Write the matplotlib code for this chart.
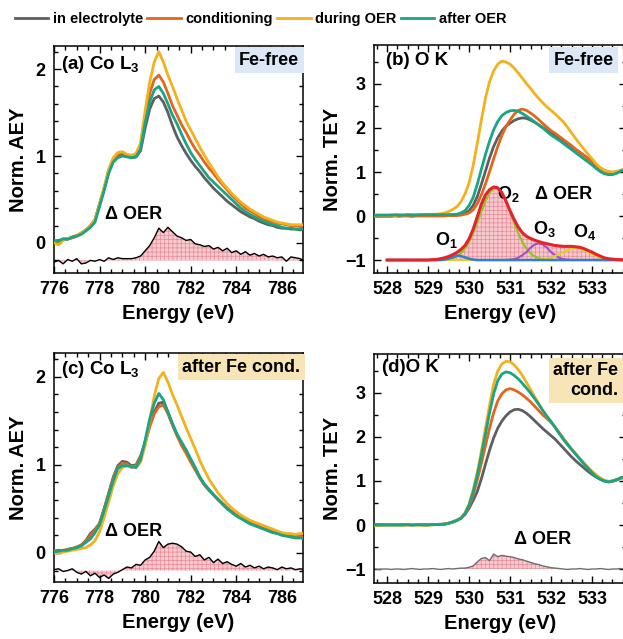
import numpy as np
import matplotlib
matplotlib.use("Agg")
import matplotlib.pyplot as plt
from matplotlib.lines import Line2D
from matplotlib.ticker import MultipleLocator

plt.rcParams['font.family'] = ['Liberation Sans', 'DejaVu Sans']
plt.rcParams['font.weight'] = 'bold'
plt.rcParams['axes.labelweight'] = 'bold'
plt.rcParams['mathtext.fontset'] = 'custom'
plt.rcParams['mathtext.rm'] = 'Liberation Sans:bold'
plt.rcParams['mathtext.it'] = 'Liberation Sans:bold'
plt.rcParams['mathtext.bf'] = 'Liberation Sans:bold'
plt.rcParams['hatch.linewidth'] = 0.5

# series names and colours
labels = ['in electrolyte', 'conditioning', 'during OER', 'after OER']
colors = ['#5f5f5f', '#e5651c', '#f3b11c', '#17a585']

# ---------------- Co L3 edge, energies 776.0 ... 787.0 (0.2 eV) ----------------
e_co = np.round(np.arange(776.0, 787.01, 0.2), 1)

co_a_gray = [0.02, 0.03, 0.04, 0.05, 0.06, 0.08, 0.11, 0.15, 0.20, 0.27,
             0.45, 0.63, 0.82, 0.95, 1.00, 1.01, 1.00, 0.98, 0.99, 1.06,
             1.32, 1.54, 1.66, 1.69, 1.62, 1.50, 1.35, 1.22, 1.12, 1.03,
             0.95, 0.88, 0.82, 0.75, 0.69, 0.63, 0.58, 0.53, 0.48, 0.44,
             0.40, 0.36, 0.33, 0.30, 0.28, 0.25, 0.23, 0.21, 0.20, 0.18,
             0.17, 0.17, 0.16, 0.16, 0.15, 0.16]
co_a_orange = [0.02, 0.01, 0.04, 0.05, 0.06, 0.08, 0.11, 0.14, 0.19, 0.26,
               0.44, 0.62, 0.83, 0.96, 1.02, 1.04, 1.01, 1.00, 1.02, 1.12,
               1.45, 1.72, 1.88, 1.93, 1.85, 1.72, 1.58, 1.47, 1.36, 1.27,
               1.17, 1.08, 1.01, 0.93, 0.86, 0.80, 0.73, 0.67, 0.61, 0.55,
               0.50, 0.45, 0.40, 0.37, 0.34, 0.30, 0.28, 0.26, 0.24, 0.23,
               0.22, 0.21, 0.20, 0.20, 0.19, 0.20]
co_a_yellow = [0.00, -0.02, 0.03, 0.05, 0.07, 0.09, 0.12, 0.15, 0.20, 0.27,
               0.45, 0.64, 0.85, 0.98, 1.04, 1.05, 1.02, 1.01, 1.03, 1.15,
               1.52, 1.85, 2.08, 2.20, 2.08, 1.93, 1.80, 1.66, 1.53, 1.40,
               1.30, 1.20, 1.10, 1.01, 0.92, 0.84, 0.76, 0.69, 0.63, 0.57,
               0.52, 0.47, 0.43, 0.39, 0.36, 0.33, 0.30, 0.28, 0.26, 0.24,
               0.23, 0.22, 0.21, 0.21, 0.21, 0.21]
co_a_green = [0.03, 0.02, 0.05, 0.04, 0.07, 0.08, 0.10, 0.14, 0.18, 0.24,
              0.42, 0.60, 0.80, 0.93, 0.98, 1.00, 0.99, 0.98, 0.99, 1.08,
              1.38, 1.62, 1.76, 1.80, 1.72, 1.60, 1.47, 1.37, 1.25, 1.14,
              1.04, 0.96, 0.89, 0.82, 0.75, 0.70, 0.65, 0.60, 0.55, 0.50,
              0.45, 0.40, 0.36, 0.33, 0.30, 0.27, 0.25, 0.23, 0.21, 0.20,
              0.18, 0.17, 0.17, 0.16, 0.16, 0.17]
co_a_delta = [-0.22, -0.20, -0.24, -0.19, -0.21, -0.18, -0.24, -0.23, -0.20, -0.21,
              -0.19, -0.21, -0.17, -0.19, -0.17, -0.18, -0.18, -0.18, -0.17, -0.15,
              -0.09, -0.03, 0.06, 0.17, 0.12, 0.18, 0.13, 0.08, 0.06, 0.03,
              0.04, -0.01, -0.02, -0.04, -0.03, -0.07, -0.05, -0.09, -0.06, -0.11,
              -0.09, -0.13, -0.10, -0.14, -0.12, -0.15, -0.13, -0.16, -0.15, -0.17,
              -0.16, -0.21, -0.16, -0.17, -0.18, -0.21]

co_c_gray = [0.02, 0.03, 0.02, 0.04, 0.05, 0.06, 0.09, 0.14, 0.22, 0.27,
             0.33, 0.50, 0.68, 0.86, 0.99, 1.04, 1.03, 0.99, 1.00, 1.10,
             1.26, 1.45, 1.60, 1.70, 1.71, 1.60, 1.46, 1.34, 1.24, 1.15,
             1.05, 0.96, 0.86, 0.78, 0.72, 0.66, 0.61, 0.56, 0.51, 0.47,
             0.43, 0.40, 0.37, 0.34, 0.32, 0.30, 0.28, 0.26, 0.24, 0.23,
             0.21, 0.20, 0.19, 0.19, 0.18, 0.18]
co_c_orange = [0.03, 0.01, 0.03, 0.04, 0.05, 0.07, 0.09, 0.13, 0.20, 0.26,
               0.34, 0.50, 0.67, 0.84, 0.97, 1.02, 1.01, 0.97, 0.99, 1.08,
               1.24, 1.43, 1.58, 1.66, 1.68, 1.58, 1.45, 1.33, 1.22, 1.13,
               1.03, 0.94, 0.85, 0.77, 0.71, 0.66, 0.60, 0.56, 0.51, 0.47,
               0.43, 0.40, 0.37, 0.35, 0.32, 0.30, 0.28, 0.26, 0.25, 0.23,
               0.22, 0.21, 0.20, 0.19, 0.19, 0.18]
co_c_yellow = [0.00, 0.00, 0.01, 0.02, 0.03, 0.04, 0.05, 0.06, 0.09, 0.14,
               0.24, 0.40, 0.58, 0.76, 0.90, 0.97, 0.99, 0.98, 0.97, 1.03,
               1.22, 1.50, 1.78, 1.98, 2.05, 1.94, 1.80, 1.68, 1.55, 1.42,
               1.30, 1.18, 1.05, 0.94, 0.84, 0.76, 0.68, 0.62, 0.56, 0.51,
               0.47, 0.43, 0.40, 0.37, 0.35, 0.33, 0.31, 0.29, 0.27, 0.25,
               0.23, 0.22, 0.22, 0.21, 0.22, 0.22]
co_c_green = [0.01, 0.02, 0.03, 0.03, 0.05, 0.06, 0.08, 0.12, 0.16, 0.23,
              0.32, 0.48, 0.65, 0.82, 0.96, 0.99, 0.99, 0.98, 0.97, 1.06,
              1.28, 1.52, 1.70, 1.81, 1.74, 1.60, 1.47, 1.35, 1.26, 1.17,
              1.07, 0.97, 0.86, 0.78, 0.72, 0.66, 0.61, 0.55, 0.50, 0.46,
              0.42, 0.39, 0.36, 0.33, 0.31, 0.29, 0.27, 0.25, 0.23, 0.22,
              0.20, 0.19, 0.18, 0.17, 0.17, 0.16]
co_c_delta = [-0.19, -0.18, -0.21, -0.20, -0.18, -0.22, -0.24, -0.21, -0.26, -0.23,
              -0.28, -0.25, -0.29, -0.24, -0.22, -0.19, -0.16, -0.17, -0.13, -0.14,
              -0.08, -0.05, 0.02, 0.13, 0.06, 0.10, 0.11, 0.10, 0.07, 0.02,
              0.01, -0.04, -0.02, -0.08, -0.05, -0.11, -0.07, -0.12, -0.10, -0.13,
              -0.15, -0.12, -0.16, -0.14, -0.17, -0.15, -0.18, -0.16, -0.17, -0.19,
              -0.16, -0.18, -0.17, -0.19, -0.18, -0.19]

# ---------------- O K edge, energies 527.7 ... 533.8 (0.1 eV) ----------------
e_ok = np.round(np.arange(527.7, 533.81, 0.1), 1)
nan = np.nan

ok_b_gray = [0.01, 0.01, 0.01,
             0.01, 0.02, 0.01, 0.01, 0.02, 0.01, 0.02, 0.02, 0.01, 0.02,
             0.02, 0.02, 0.02, 0.02, 0.02, 0.02, 0.03, 0.03, 0.04, 0.06,
             0.12, 0.24, 0.44, 0.72, 1.02, 1.32, 1.58, 1.78, 1.93, 2.04,
             2.11, 2.17, 2.21, 2.23, 2.22, 2.18, 2.13, 2.07, 2.01, 1.95,
             1.89, 1.83, 1.77, 1.71, 1.65, 1.58, 1.51, 1.45, 1.38, 1.31,
             1.24, 1.16, 1.09, 1.04, 1.00, 0.99, 1.00, 1.03, 1.06]
ok_b_orange = [-0.01, -0.01, -0.01,
               -0.01, -0.01, 0.00, -0.01, 0.00, 0.00, -0.01, 0.00, 0.00, 0.00,
               0.00, 0.00, 0.00, 0.00, 0.00, 0.01, 0.01, 0.01, 0.02, 0.04,
               0.07, 0.14, 0.28, 0.48, 0.73, 1.01, 1.30, 1.58, 1.83, 2.03,
               2.18, 2.31, 2.40, 2.43, 2.40, 2.34, 2.27, 2.19, 2.10, 2.02,
               1.94, 1.88, 1.81, 1.74, 1.67, 1.60, 1.52, 1.45, 1.38, 1.31,
               1.23, 1.15, 1.07, 1.02, 0.99, 0.99, 1.00, 1.03, 1.06]
ok_b_yellow = [0.02, 0.02, 0.02,
               0.02, 0.02, 0.02, 0.03, 0.02, 0.03, 0.03, 0.03, 0.03, 0.03,
               0.03, 0.04, 0.04, 0.05, 0.07, 0.10, 0.15, 0.21, 0.32, 0.50,
               0.75, 1.15, 1.65, 2.18, 2.68, 3.05, 3.30, 3.45, 3.52, 3.50,
               3.45, 3.36, 3.25, 3.13, 3.01, 2.90, 2.78, 2.67, 2.57, 2.48,
               2.40, 2.32, 2.23, 2.14, 2.02, 1.89, 1.76, 1.64, 1.52, 1.41,
               1.30, 1.19, 1.10, 1.04, 1.01, 1.00, 1.01, 1.04, 1.06]
ok_b_green = [0.02, 0.02, 0.02,
              0.02, 0.02, 0.03, 0.02, 0.02, 0.03, 0.02, 0.02, 0.03, 0.03,
              0.03, 0.03, 0.03, 0.03, 0.03, 0.03, 0.03, 0.04, 0.07, 0.12,
              0.24, 0.42, 0.72, 1.06, 1.40, 1.70, 1.96, 2.15, 2.28, 2.35,
              2.39, 2.40, 2.38, 2.33, 2.27, 2.21, 2.14, 2.07, 2.00, 1.92,
              1.84, 1.78, 1.72, 1.65, 1.58, 1.51, 1.44, 1.37, 1.30, 1.23,
              1.16, 1.08, 1.01, 0.96, 0.94, 0.94, 0.97, 1.02, 1.06]

# delta OER (b) and its fit components, shifted to -1
ok_b_delta = [nan, nan, nan,
              -1.00, -1.00, -1.00, -1.00, -1.00, -1.00, -1.00, -1.00, -1.00, -1.00,
              -1.00, -0.99, -0.99, -0.97, -0.95, -0.92, -0.88, -0.83, -0.76, -0.67,
              -0.52, -0.30, -0.02, 0.27, 0.48, 0.60, 0.66, 0.64, 0.53, 0.34,
              0.12, -0.08, -0.25, -0.38, -0.46, -0.51, -0.55, -0.58, -0.61, -0.63,
              -0.65, -0.67, -0.68, -0.69, -0.69, -0.69, -0.70, -0.71, -0.74, -0.78,
              -0.82, -0.87, -0.91, -0.95, -0.97, -0.98, -0.99, -0.99, -1.00]
ok_b_o1 = [nan, nan, nan,
           -1.00, -1.00, -1.00, -1.00, -1.00, -1.00, -1.00, -1.00, -1.00, -1.00,
           -1.00, -1.00, -1.00, -1.00, -0.99, -0.97, -0.94, -0.90, -0.91, -0.94,
           -0.97, -0.99, -1.00, -1.00, -1.00, -1.00, -1.00, -1.00, -1.00, -1.00,
           -1.00, -1.00, -1.00, -1.00, -1.00, -1.00, -1.00, -1.00, -1.00, -1.00,
           -1.00, -1.00, -1.00, -1.00, -1.00, -1.00, -1.00, -1.00, -1.00, -1.00,
           -1.00, -1.00, -1.00, -1.00, -1.00, -1.00, -1.00, -1.00, -1.00]
ok_b_o2 = [nan, nan, nan,
           -1.00, -1.00, -1.00, -1.00, -1.00, -1.00, -1.00, -1.00, -1.00, -1.00,
           -1.00, -1.00, -1.00, -1.00, -0.99, -0.98, -0.96, -0.92, -0.85, -0.74,
           -0.59, -0.39, -0.15, 0.10, 0.34, 0.53, 0.64, 0.64, 0.53, 0.34,
           0.10, -0.15, -0.39, -0.59, -0.74, -0.85, -0.92, -0.96, -0.98, -0.99,
           -1.00, -1.00, -1.00, -1.00, -1.00, -1.00, -1.00, -1.00, -1.00, -1.00,
           -1.00, -1.00, -1.00, -1.00, -1.00, -1.00, -1.00, -1.00, -1.00]
ok_b_o3 = [nan, nan, nan,
           -1.00, -1.00, -1.00, -1.00, -1.00, -1.00, -1.00, -1.00, -1.00, -1.00,
           -1.00, -1.00, -1.00, -1.00, -1.00, -1.00, -1.00, -1.00, -1.00, -1.00,
           -1.00, -1.00, -1.00, -1.00, -1.00, -1.00, -1.00, -1.00, -1.00, -1.00,
           -0.99, -0.98, -0.95, -0.89, -0.82, -0.72, -0.65, -0.62, -0.65, -0.72,
           -0.82, -0.89, -0.95, -0.98, -0.99, -1.00, -1.00, -1.00, -1.00, -1.00,
           -1.00, -1.00, -1.00, -1.00, -1.00, -1.00, -1.00, -1.00, -1.00]
ok_b_o4 = [nan, nan, nan,
           -1.00, -1.00, -1.00, -1.00, -1.00, -1.00, -1.00, -1.00, -1.00, -1.00,
           -1.00, -1.00, -1.00, -1.00, -1.00, -1.00, -1.00, -1.00, -1.00, -1.00,
           -1.00, -1.00, -1.00, -1.00, -1.00, -1.00, -1.00, -1.00, -1.00, -1.00,
           -1.00, -1.00, -1.00, -1.00, -1.00, -1.00, -1.00, -0.99, -0.99, -0.97,
           -0.95, -0.91, -0.87, -0.82, -0.78, -0.74, -0.73, -0.74, -0.78, -0.82,
           -0.87, -0.91, -0.95, -0.97, -0.99, -0.99, -1.00, -1.00, -1.00]

ok_d_gray = [0.01, 0.01, 0.01,
             0.01, 0.01, 0.00, 0.01, 0.01, 0.01, 0.00, 0.01, 0.01, 0.01,
             0.01, 0.01, 0.01, 0.02, 0.02, 0.04, 0.07, 0.11, 0.16, 0.24,
             0.38, 0.56, 0.76, 1.05, 1.38, 1.70, 1.98, 2.20, 2.36, 2.48,
             2.57, 2.62, 2.63, 2.60, 2.54, 2.46, 2.37, 2.28, 2.19, 2.11,
             2.03, 1.95, 1.85, 1.75, 1.65, 1.55, 1.46, 1.38, 1.30, 1.22,
             1.15, 1.09, 1.04, 1.00, 0.98, 0.99, 1.02, 1.06, 1.09]
ok_d_orange = [0.00, 0.00, 0.00,
               0.00, 0.00, 0.01, 0.00, 0.00, 0.00, 0.00, 0.01, 0.00, 0.00,
               0.00, 0.01, 0.01, 0.01, 0.02, 0.04, 0.06, 0.10, 0.15, 0.25,
               0.42, 0.68, 1.02, 1.40, 1.80, 2.20, 2.55, 2.82, 2.98, 3.07,
               3.10, 3.07, 3.02, 2.96, 2.88, 2.80, 2.70, 2.60, 2.50, 2.42,
               2.33, 2.22, 2.10, 1.97, 1.85, 1.73, 1.62, 1.51, 1.41, 1.31,
               1.21, 1.13, 1.06, 1.01, 0.99, 1.00, 1.03, 1.07, 1.10]
ok_d_yellow = [-0.02, -0.01, 0.00,
               0.00, 0.00, 0.00, 0.00, 0.00, 0.00, 0.01, 0.00, 0.00, 0.00,
               0.00, 0.00, 0.01, 0.01, 0.02, 0.04, 0.07, 0.11, 0.16, 0.28,
               0.48, 0.80, 1.20, 1.68, 2.20, 2.72, 3.20, 3.50, 3.66, 3.72,
               3.71, 3.64, 3.53, 3.40, 3.24, 3.08, 2.92, 2.76, 2.60, 2.47,
               2.35, 2.22, 2.08, 1.95, 1.83, 1.72, 1.62, 1.51, 1.41, 1.31,
               1.22, 1.14, 1.07, 1.02, 0.99, 1.00, 1.03, 1.07, 1.10]
ok_d_green = [0.00, 0.00, 0.00,
              0.00, 0.00, 0.00, 0.00, 0.00, 0.01, 0.00, 0.00, 0.01, 0.00,
              0.00, 0.01, 0.01, 0.01, 0.02, 0.04, 0.07, 0.10, 0.15, 0.26,
              0.45, 0.75, 1.13, 1.58, 2.07, 2.55, 2.98, 3.28, 3.43, 3.48,
              3.46, 3.40, 3.32, 3.22, 3.11, 3.00, 2.87, 2.74, 2.60, 2.47,
              2.35, 2.22, 2.08, 1.95, 1.83, 1.72, 1.61, 1.50, 1.39, 1.29,
              1.19, 1.10, 1.04, 1.00, 0.98, 1.00, 1.03, 1.07, 1.10]
ok_d_delta = [-1.00, -1.01, -1.00,
              -1.00, -1.01, -1.00, -1.00, -1.01, -1.00, -0.99, -1.00, -1.01, -1.00,
              -1.00, -0.99, -1.00, -1.01, -1.00, -0.99, -1.00, -0.99, -0.98, -0.98,
              -0.96, -0.93, -0.84, -0.76, -0.74, -0.81, -0.66, -0.72, -0.69, -0.71,
              -0.72, -0.74, -0.77, -0.79, -0.82, -0.85, -0.88, -0.90, -0.93, -0.95,
              -0.97, -0.98, -0.99, -1.00, -1.01, -1.00, -1.00, -0.99, -1.00, -1.01,
              -1.00, -1.00, -0.99, -1.00, -1.01, -1.00, -1.00, -0.99, -1.00]

W, H = 623, 639
fig = plt.figure(figsize=(W / 100, H / 100), dpi=100)


def px_axes(left, top, right, bottom):
    return fig.add_axes([left / W, 1 - bottom / H, (right - left) / W, (bottom - top) / H])


def style(ax, xmaj, xmin, ymin):
    ax.xaxis.set_major_locator(MultipleLocator(xmaj))
    ax.xaxis.set_minor_locator(MultipleLocator(xmin))
    ax.yaxis.set_major_locator(MultipleLocator(1))
    ax.yaxis.set_minor_locator(MultipleLocator(ymin))
    ax.tick_params(which='both', direction='in', top=True, right=True, labelsize=13, width=1)
    ax.tick_params(which='major', length=5, pad=6)
    ax.tick_params(which='minor', length=3)
    ax.set_xlabel('Energy (eV)', fontsize=14.5, labelpad=4)
    for s in ax.spines.values():
        s.set_linewidth(1.1)


def fill_delta(ax, x, y, base):
    ax.fill_between(x, y, base, facecolor='#f8c9ce', edgecolor='#e58c96', hatch='++++',
                    linewidth=0, interpolate=True, zorder=1)


def box(ax, x, y, txt, fc):
    ax.text(x, y, txt, transform=ax.transAxes, ha='right', va='top', fontsize=13,
            linespacing=1.2, bbox=dict(boxstyle='square,pad=0.25', fc=fc, ec='none'))


# (a) Co L3, Fe-free
ax = px_axes(54, 46, 303, 273)
fill_delta(ax, e_co, co_a_delta, -0.2)
ax.plot(e_co, co_a_delta, color='black', lw=1.0, zorder=2)
for y, c in zip([co_a_gray, co_a_orange, co_a_yellow, co_a_green], colors):
    ax.plot(e_co, y, color=c, lw=2.0, zorder=3)
ax.set_xlim(776.0, 786.93)
ax.set_ylim(-0.345, 2.265)
style(ax, 2, 0.5, 0.2)
ax.set_ylabel('Norm. AEY', fontsize=14.5)
ax.yaxis.set_label_coords(-0.105, 0.5)
ax.text(0.03, 0.92, r'(a) Co L$_3$', transform=ax.transAxes, fontsize=13.5, va='center')
ax.text(779.5, 0.33, 'Δ OER', fontsize=13, ha='center', va='center')
box(ax, 0.985, 0.975, 'Fe-free', '#dce8f5')

# (c) Co L3, after Fe conditioning
ax = px_axes(54, 353, 303, 582)
fill_delta(ax, e_co, co_c_delta, -0.2)
ax.plot(e_co, co_c_delta, color='black', lw=1.0, zorder=2)
for y, c in zip([co_c_gray, co_c_orange, co_c_yellow, co_c_green], colors):
    ax.plot(e_co, y, color=c, lw=2.0, zorder=3)
ax.set_xlim(776.0, 786.93)
ax.set_ylim(-0.33, 2.27)
style(ax, 2, 0.5, 0.2)
ax.set_ylabel('Norm. AEY', fontsize=14.5)
ax.yaxis.set_label_coords(-0.105, 0.5)
ax.text(0.03, 0.926, r'(c) Co L$_3$', transform=ax.transAxes, fontsize=13.5, va='center')
ax.text(779.5, 0.24, 'Δ OER', fontsize=13, ha='center', va='center')
box(ax, 0.99, 0.975, 'after Fe cond.', '#f7e4b7')

# (b) O K, Fe-free
ax = px_axes(374, 45, 626, 273)
for y, c in zip([ok_b_gray, ok_b_orange, ok_b_yellow, ok_b_green], colors):
    ax.plot(e_ok, y, color=c, lw=2.0, zorder=3)
fill_delta(ax, e_ok, ok_b_delta, -1.0)
ax.plot(e_ok, ok_b_o2, color='#8cc71e', lw=1.5, zorder=4)
ax.plot(e_ok, ok_b_o3, color='#a24fc6', lw=1.5, zorder=4)
ax.plot(e_ok, ok_b_o4, color='#d9d323', lw=1.5, zorder=4)
ax.plot(e_ok, ok_b_o1, color='#2f7fd0', lw=1.8, zorder=5)
ax.plot(e_ok, ok_b_delta, color='#e5232a', lw=2.2, zorder=6)
ax.set_xlim(527.68, 533.83)
ax.set_ylim(-1.295, 3.886)
style(ax, 1, 0.25, 0.5)
ax.set_ylabel('Norm. TEY', fontsize=14.5)
ax.yaxis.set_label_coords(-0.125, 0.5)
ax.text(0.048, 0.934, '(b) O K', transform=ax.transAxes, fontsize=13.5, va='center')
ax.text(529.45, -0.55, r'O$_1$', fontsize=13, ha='center', va='center')
ax.text(530.95, 0.5, r'O$_2$', fontsize=13, ha='center', va='center')
ax.text(531.85, -0.3, r'O$_3$', fontsize=13, ha='center', va='center')
ax.text(532.83, -0.37, r'O$_4$', fontsize=13, ha='center', va='center')
ax.text(532.3, 0.48, 'Δ OER', fontsize=13, ha='center', va='center')
box(ax, 0.952, 0.97, 'Fe-free', '#dce8f5')

# (d) O K, after Fe conditioning
ax = px_axes(374, 354, 626, 583)
fill_delta(ax, e_ok, ok_d_delta, -1.0)
ax.plot(e_ok, ok_d_delta, color='#6e6e6e', lw=1.0, zorder=2)
for y, c in zip([ok_d_gray, ok_d_orange, ok_d_yellow, ok_d_green], colors):
    ax.plot(e_ok, y, color=c, lw=2.0, zorder=3)
ax.set_xlim(527.68, 533.83)
ax.set_ylim(-1.318, 3.886)
style(ax, 1, 0.25, 0.5)
ax.set_ylabel('Norm. TEY', fontsize=14.5)
ax.yaxis.set_label_coords(-0.125, 0.5)
ax.text(0.03, 0.939, '(d)O K', transform=ax.transAxes, fontsize=13.5, va='center')
ax.text(531.8, -0.34, 'Δ OER', fontsize=13, ha='center', va='center')
box(ax, 0.97, 0.965, 'after Fe\ncond.', '#f7e4b7')

# shared legend on top
handles = [Line2D([], [], color=c, lw=2.0) for c in colors]
fig.legend(handles, labels, loc='upper left', bbox_to_anchor=(0.005, 1.0), ncol=4,
           frameon=False, fontsize=10.5, handlelength=2.3, handletextpad=0.3,
           columnspacing=0.3, borderaxespad=0.4)

# tick labels in bold (set after a first draw so every tick exists)
fig.canvas.draw()
for a in fig.axes:
    for lab in a.get_xticklabels() + a.get_yticklabels():
        lab.set_fontweight('bold')

fig.savefig('out.png', dpi=100)
